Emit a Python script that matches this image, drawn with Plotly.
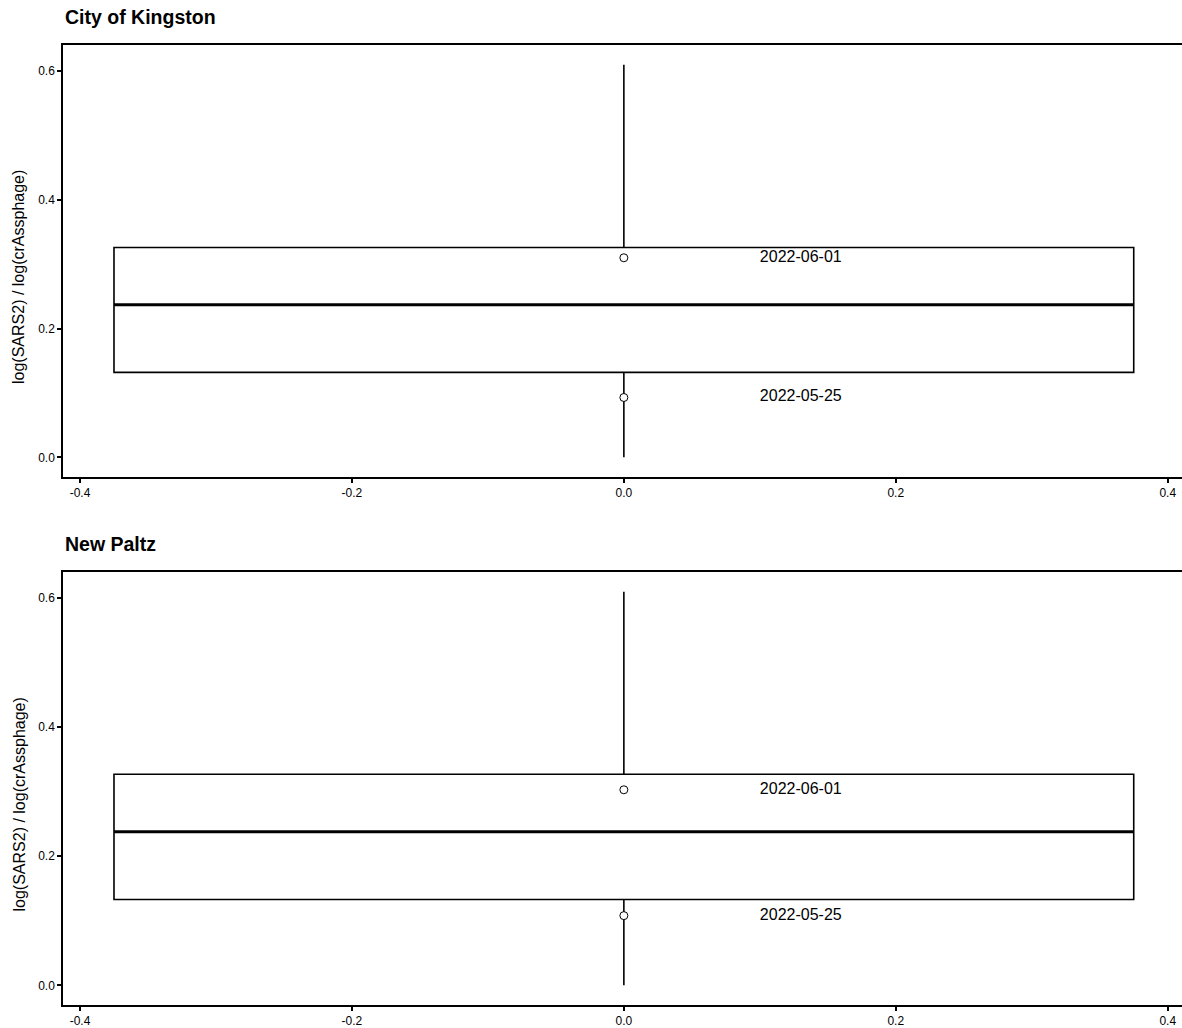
import plotly.graph_objects as go

# ---- data ----
panels = ["City of Kingston", "New Paltz"]
q1 = [0.132, 0.133]
median = [0.237, 0.238]
q3 = [0.326, 0.327]
lower_whisker = [0.0, 0.0]
upper_whisker = [0.61, 0.61]
point_values = [[0.310, 0.093], [0.303, 0.108]]
point_labels = [["2022-06-01", "2022-05-25"], ["2022-06-01", "2022-05-25"]]
box_center = 0.0
box_width = 0.75
label_x = 0.1
x_ticks = [-0.4, -0.2, 0.0, 0.2, 0.4]
y_ticks = [0.0, 0.2, 0.4, 0.6]
y_title = "log(SARS2) / log(crAssphage)"

W, H = 1182, 1028
ML = 63
FONT = "Liberation Sans, Arial, sans-serif"

fig = go.Figure()

# panel pixel geometry (top, bottom)
panel_px = [(45, 477), (572, 1005)]

def py(p):
    return 1 - p / H

for i, name in enumerate(panels):
    xa = "x" if i == 0 else "x2"
    ya = "y" if i == 0 else "y2"
    fig.add_trace(go.Box(
        x=[box_center], q1=[q1[i]], median=[median[i]], q3=[q3[i]],
        lowerfence=[lower_whisker[i]], upperfence=[upper_whisker[i]],
        width=box_width, whiskerwidth=0, fillcolor="white",
        line=dict(color="black", width=1.6), boxpoints=False,
        xaxis=xa, yaxis=ya, showlegend=False, hoverinfo="skip",
    ))
    half = box_width / 2
    fig.add_trace(go.Scatter(
        x=[box_center - half, box_center + half], y=[median[i], median[i]],
        mode="lines", line=dict(color="black", width=3),
        xaxis=xa, yaxis=ya, showlegend=False, hoverinfo="skip",
    ))
    fig.add_trace(go.Scatter(
        x=[box_center] * len(point_values[i]), y=point_values[i],
        mode="markers",
        marker=dict(symbol="circle", size=8, color="white",
                    line=dict(color="black", width=1)),
        xaxis=xa, yaxis=ya, showlegend=False,
    ))
    fig.add_trace(go.Scatter(
        x=[label_x] * len(point_values[i]), y=point_values[i],
        mode="text", text=point_labels[i], textposition="middle right",
        textfont=dict(family=FONT, size=16, color="black"),
        xaxis=xa, yaxis=ya, showlegend=False, hoverinfo="skip",
    ))
    top, bot = panel_px[i]
    # panel title
    fig.add_annotation(
        text="<b>" + name + "</b>", xref="paper", yref="paper",
        x=(63 - ML) / (W - ML), y=py(top - 28), xanchor="left", yanchor="middle",
        showarrow=False, font=dict(family=FONT, size=19.5, color="black"),
    )
    # y title
    fig.add_annotation(
        text=y_title, xref="paper", yref="paper",
        x=(19 - ML) / (W - ML), y=py((top + bot) / 2 + 16),
        xanchor="center", yanchor="middle", textangle=-90,
        showarrow=False, font=dict(family=FONT, size=16, color="black"),
    )

axis_common = dict(
    showline=True, linecolor="black", linewidth=1.5,
    ticks="outside", ticklen=4, tickcolor="black", tickwidth=1.5,
    showgrid=False, zeroline=False,
    tickfont=dict(family=FONT, size=12, color="black"),
)

xr = [-0.4125, 0.4105]
yr = [-0.0305, 0.6405]
fig.update_layout(
    width=W, height=H,
    margin=dict(l=ML, r=0, t=0, b=0),
    plot_bgcolor="white", paper_bgcolor="white",
    xaxis=dict(domain=[0, 1], anchor="y", range=xr, tickvals=x_ticks, mirror=True,
               ticktext=[f"{v:.1f}" for v in x_ticks], **axis_common),
    yaxis=dict(domain=[py(panel_px[0][1]), py(panel_px[0][0])], anchor="x",
               range=yr, tickvals=y_ticks,
               ticktext=[f"{v:.1f}" for v in y_ticks], **axis_common),
    xaxis2=dict(domain=[0, 1], anchor="y2", range=xr, tickvals=x_ticks, mirror=True,
                ticktext=[f"{v:.1f}" for v in x_ticks], **axis_common),
    yaxis2=dict(domain=[py(panel_px[1][1]), py(panel_px[1][0])], anchor="x2",
                range=yr, tickvals=y_ticks,
                ticktext=[f"{v:.1f}" for v in y_ticks], **axis_common),
)

fig.write_html(
    "out.html",
    config={"displayModeBar": False},
    post_script="document.body.style.margin='0';document.body.style.overflow='hidden';",
)
